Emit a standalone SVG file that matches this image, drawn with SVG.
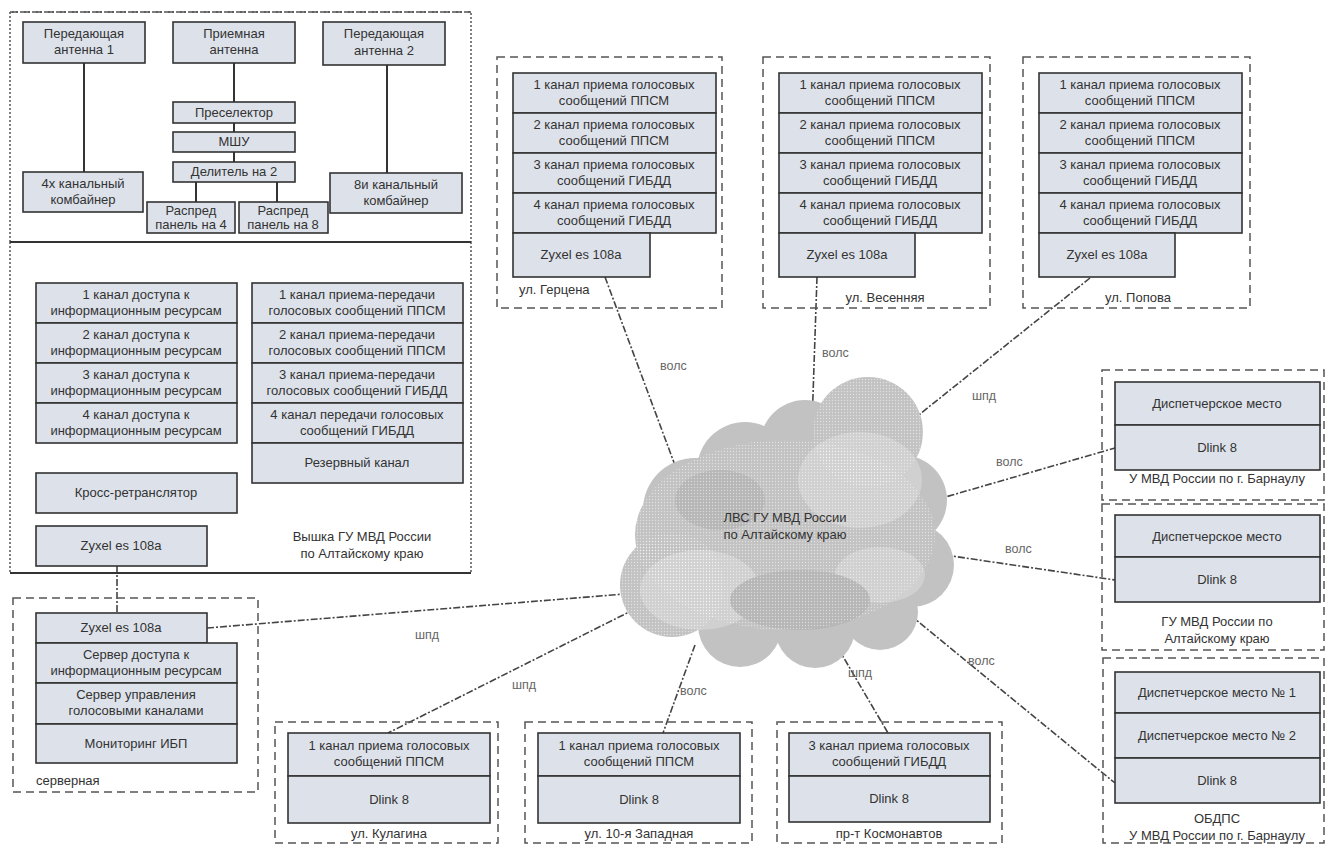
<svg xmlns="http://www.w3.org/2000/svg" width="1327" height="845" viewBox="0 0 1327 845">
<style>
.b{fill:#dde2ea;stroke:#333;stroke-width:1.6}
.t{font-family:"Liberation Sans",Arial,sans-serif;font-size:13px;fill:#333;text-anchor:middle}
.l{font-family:"Liberation Sans",Arial,sans-serif;font-size:13px;fill:#333}
.k{font-family:"Liberation Sans",Arial,sans-serif;font-size:12.5px;fill:#666}
.c{fill:none;stroke:#555;stroke-width:1.5;stroke-dasharray:8 5}
.s{stroke:#333;stroke-width:2;fill:none}
.ln{stroke:#444;stroke-width:1.6;fill:none;stroke-dasharray:7 2 2 2}
</style>
<defs>
<pattern id="dots" width="3" height="3" patternUnits="userSpaceOnUse"><rect width="3" height="3" fill="none"/><circle cx="1.5" cy="1.5" r="0.7" fill="#fff" opacity="0.5"/></pattern>
</defs>
<rect width="1327" height="845" fill="#fff"/>

<g id="connectors">
<line class="ln" x1="605" y1="277" x2="676" y2="468"/>
<line class="ln" x1="817" y1="277" x2="812" y2="425"/>
<line class="ln" x1="1090" y1="278" x2="910" y2="422"/>
<line class="ln" x1="935" y1="500" x2="1115" y2="448"/>
<line class="ln" x1="945" y1="555" x2="1115" y2="580"/>
<line class="ln" x1="910" y1="615" x2="1115" y2="783"/>
<line class="ln" x1="838" y1="648" x2="888" y2="733"/>
<line class="ln" x1="695" y1="645" x2="663" y2="733"/>
<line class="ln" x1="647" y1="603" x2="388" y2="733"/>
<line class="ln" x1="207" y1="628" x2="637" y2="593"/>
<line class="ln" x1="117" y1="566" x2="117" y2="613"/>
<path class="s" d="M84 63V172M234 63V102M234 123V132M234 152V162M196 182V202M277 182V202M387 65V173"/>
<text class="k" x="660" y="370">волс</text>
<text class="k" x="822" y="357">волс</text>
<text class="k" x="972" y="400">шпд</text>
<text class="k" x="996" y="466">волс</text>
<text class="k" x="1005" y="553">волс</text>
<text class="k" x="968" y="665">волс</text>
<text class="k" x="848" y="677">шпд</text>
<text class="k" x="680" y="695">волс</text>
<text class="k" x="512" y="689">шпд</text>
<text class="k" x="415" y="639">шпд</text>
</g>

<g id="cloud">
<g fill="#c2c2c2">
<ellipse cx="785" cy="535" rx="150" ry="95"/>
<circle cx="695" cy="510" r="52"/>
<circle cx="672" cy="585" r="52"/>
<circle cx="745" cy="470" r="48"/>
<circle cx="805" cy="445" r="45"/>
<circle cx="868" cy="432" r="55"/>
<circle cx="902" cy="500" r="45"/>
<circle cx="912" cy="565" r="42"/>
<circle cx="880" cy="612" r="38"/>
<circle cx="815" cy="628" r="40"/>
<circle cx="740" cy="625" r="42"/>
</g>
<g fill="#d0d0d0">
<ellipse cx="860" cy="480" rx="62" ry="48"/>
<ellipse cx="700" cy="590" rx="60" ry="40"/>
<ellipse cx="880" cy="575" rx="45" ry="28"/>
</g>
<g fill="#b6b6b6">
<ellipse cx="800" cy="600" rx="70" ry="30"/>
<ellipse cx="720" cy="500" rx="45" ry="30"/>
</g>
<g fill="url(#dots)">
<ellipse cx="785" cy="535" rx="150" ry="95"/>
<circle cx="868" cy="432" r="55"/>
<circle cx="672" cy="585" r="52"/>
</g>
<text class="t" x="785" y="522">ЛВС ГУ МВД России</text>
<text class="t" x="785" y="539">по Алтайскому краю</text>
</g>

<g id="tower">
<path d="M10 242V12H471V242" fill="none" stroke="#555" stroke-width="1.5" stroke-dasharray="2 2"/>
<line x1="10" y1="12" x2="471" y2="12" stroke="#555" stroke-width="1.5" stroke-dasharray="8 4"/>
<path d="M10 242V573M471 242V573" fill="none" stroke="#555" stroke-width="1.5" stroke-dasharray="2 2"/>
<line x1="10" y1="242" x2="471" y2="242" stroke="#333" stroke-width="1.8"/>
<line x1="10" y1="573" x2="471" y2="573" stroke="#333" stroke-width="1.8"/>
<text class="t" x="362" y="541">Вышка ГУ МВД России</text>
<text class="t" x="362" y="558">по Алтайскому краю</text>
</g>
<g id="ant1"><rect class="b" x="23" y="22" width="122" height="41"/><text class="t" x="84" y="38">Передающая</text><text class="t" x="84" y="54">антенна 1</text></g>
<g id="antrx"><rect class="b" x="173" y="22" width="122" height="41"/><text class="t" x="234" y="38">Приемная</text><text class="t" x="234" y="54">антенна</text></g>
<g id="ant2"><rect class="b" x="323" y="22" width="122" height="43"/><text class="t" x="384" y="38">Передающая</text><text class="t" x="384" y="55">антенна 2</text></g>
<g id="presel"><rect class="b" x="173" y="102" width="122" height="21"/><text class="t" x="234" y="117">Преселектор</text></g>
<g id="mshu"><rect class="b" x="173" y="132" width="122" height="20"/><text class="t" x="234" y="146">МШУ</text></g>
<g id="div2"><rect class="b" x="173" y="162" width="122" height="20"/><text class="t" x="234" y="176">Делитель на 2</text></g>
<g id="comb4"><rect class="b" x="23" y="172" width="120" height="40"/><text class="t" x="83" y="188">4х канальный</text><text class="t" x="83" y="204">комбайнер</text></g>
<g id="dist4"><rect class="b" x="147" y="202" width="88" height="31"/><text class="t" x="191" y="215">Распред</text><text class="t" x="191" y="229">панель на 4</text></g>
<g id="dist8"><rect class="b" x="239" y="202" width="89" height="31"/><text class="t" x="283" y="215">Распред</text><text class="t" x="283" y="229">панель на 8</text></g>
<g id="comb8"><rect class="b" x="330" y="173" width="132" height="40"/><text class="t" x="396" y="189">8и канальный</text><text class="t" x="396" y="205">комбайнер</text></g>

<g id="access">
<rect class="b" x="36" y="283" width="201" height="40"/><text class="t" x="136" y="299">1 канал  доступа к</text><text class="t" x="136" y="315">информационным ресурсам</text>
<rect class="b" x="36" y="323" width="201" height="40"/><text class="t" x="136" y="339">2 канал  доступа к</text><text class="t" x="136" y="355">информационным ресурсам</text>
<rect class="b" x="36" y="363" width="201" height="40"/><text class="t" x="136" y="379">3 канал  доступа к</text><text class="t" x="136" y="395">информационным ресурсам</text>
<rect class="b" x="36" y="403" width="201" height="40"/><text class="t" x="136" y="419">4 канал  доступа к</text><text class="t" x="136" y="435">информационным ресурсам</text>
</g>
<g id="voice">
<rect class="b" x="252" y="283" width="211" height="40"/><text class="t" x="357" y="299">1 канал приема-передачи</text><text class="t" x="357" y="315">голосовых сообщений ППСМ</text>
<rect class="b" x="252" y="323" width="211" height="40"/><text class="t" x="357" y="339">2 канал приема-передачи</text><text class="t" x="357" y="355">голосовых сообщений ППСМ</text>
<rect class="b" x="252" y="363" width="211" height="40"/><text class="t" x="357" y="379">3 канал приема-передачи</text><text class="t" x="357" y="395">голосовых сообщений ГИБДД</text>
<rect class="b" x="252" y="403" width="211" height="40"/><text class="t" x="357" y="419">4 канал передачи голосовых</text><text class="t" x="357" y="435">сообщений ГИБДД</text>
<rect class="b" x="252" y="443" width="211" height="40"/><text class="t" x="357" y="467">Резервный канал</text>
</g>
<g id="cross"><rect class="b" x="36" y="473" width="201" height="40"/><text class="t" x="136" y="497">Кросс-ретранслятор</text></g>
<g id="zyxel-tower"><rect class="b" x="36" y="526" width="171" height="40"/><text class="t" x="121" y="550">Zyxel es 108a</text></g>

<g id="server">
<rect class="c" x="13" y="598" width="245" height="194"/>
<rect class="b" x="36" y="613" width="171" height="30"/><text class="t" x="121" y="632">Zyxel es 108a</text>
<rect class="b" x="36" y="643" width="201" height="40"/><text class="t" x="136" y="659">Сервер доступа к</text><text class="t" x="136" y="675">информационным ресурсам</text>
<rect class="b" x="36" y="683" width="201" height="41"/><text class="t" x="136" y="699">Сервер управления</text><text class="t" x="136" y="715">голосовыми каналами</text>
<rect class="b" x="36" y="724" width="201" height="39"/><text class="t" x="136" y="748">Мониторинг ИБП</text>
<text class="l" x="36" y="785">серверная</text>
</g>

<g id="gertsena">
<rect class="c" x="497" y="57" width="225" height="251"/>
<rect class="b" x="513" y="73" width="203" height="40"/><text class="t" x="614" y="89">1 канал приема голосовых</text><text class="t" x="614" y="105">сообщений ППСМ</text>
<rect class="b" x="513" y="113" width="203" height="40"/><text class="t" x="614" y="129">2 канал приема голосовых</text><text class="t" x="614" y="145">сообщений ППСМ</text>
<rect class="b" x="513" y="153" width="203" height="40"/><text class="t" x="614" y="169">3 канал приема голосовых</text><text class="t" x="614" y="185">сообщений ГИБДД</text>
<rect class="b" x="513" y="193" width="203" height="40"/><text class="t" x="614" y="209">4 канал приема голосовых</text><text class="t" x="614" y="225">сообщений ГИБДД</text>
<rect class="b" x="513" y="233" width="137" height="44"/><text class="t" x="581" y="259">Zyxel es 108a</text>
<text class="l" x="519" y="294">ул. Герцена</text>
</g>
<g id="vesennyaya">
<rect class="c" x="763" y="57" width="227" height="251"/>
<rect class="b" x="779" y="73" width="203" height="40"/><text class="t" x="880" y="89">1 канал приема голосовых</text><text class="t" x="880" y="105">сообщений ППСМ</text>
<rect class="b" x="779" y="113" width="203" height="40"/><text class="t" x="880" y="129">2 канал приема голосовых</text><text class="t" x="880" y="145">сообщений ППСМ</text>
<rect class="b" x="779" y="153" width="203" height="40"/><text class="t" x="880" y="169">3 канал приема голосовых</text><text class="t" x="880" y="185">сообщений ГИБДД</text>
<rect class="b" x="779" y="193" width="203" height="40"/><text class="t" x="880" y="209">4 канал приема голосовых</text><text class="t" x="880" y="225">сообщений ГИБДД</text>
<rect class="b" x="779" y="233" width="136" height="44"/><text class="t" x="847" y="259">Zyxel es 108a</text>
<text class="t" x="885" y="302">ул. Весенняя</text>
</g>
<g id="popova">
<rect class="c" x="1023" y="57" width="227" height="251"/>
<rect class="b" x="1039" y="73" width="203" height="40"/><text class="t" x="1140" y="89">1 канал приема голосовых</text><text class="t" x="1140" y="105">сообщений ППСМ</text>
<rect class="b" x="1039" y="113" width="203" height="40"/><text class="t" x="1140" y="129">2 канал приема голосовых</text><text class="t" x="1140" y="145">сообщений ППСМ</text>
<rect class="b" x="1039" y="153" width="203" height="40"/><text class="t" x="1140" y="169">3 канал приема голосовых</text><text class="t" x="1140" y="185">сообщений ГИБДД</text>
<rect class="b" x="1039" y="193" width="203" height="40"/><text class="t" x="1140" y="209">4 канал приема голосовых</text><text class="t" x="1140" y="225">сообщений ГИБДД</text>
<rect class="b" x="1039" y="233" width="136" height="44"/><text class="t" x="1107" y="259">Zyxel es 108a</text>
<text class="t" x="1138" y="302">ул. Попова</text>
</g>

<g id="umvd">
<rect class="c" x="1102" y="370" width="222" height="130"/>
<rect class="b" x="1115" y="382" width="205" height="43"/><text class="t" x="1217" y="408">Диспетчерское место</text>
<rect class="b" x="1115" y="425" width="205" height="45"/><text class="t" x="1217" y="452">Dlink 8</text>
<text class="t" x="1217" y="483">У МВД России по г. Барнаулу</text>
</g>
<g id="gumvd">
<rect class="c" x="1102" y="504" width="222" height="146"/>
<rect class="b" x="1115" y="515" width="205" height="42"/><text class="t" x="1217" y="541">Диспетчерское место</text>
<rect class="b" x="1115" y="557" width="205" height="45"/><text class="t" x="1217" y="584">Dlink 8</text>
<text class="t" x="1217" y="626">ГУ МВД России по</text>
<text class="t" x="1217" y="643">Алтайскому краю</text>
</g>
<g id="obdps">
<rect class="c" x="1103" y="658" width="221" height="185"/>
<rect class="b" x="1115" y="672" width="205" height="41"/><text class="t" x="1217" y="697">Диспетчерское место № 1</text>
<rect class="b" x="1115" y="713" width="205" height="45"/><text class="t" x="1217" y="740">Диспетчерское место № 2</text>
<rect class="b" x="1115" y="758" width="205" height="45"/><text class="t" x="1217" y="785">Dlink 8</text>
<text class="t" x="1217" y="823">ОБДПС</text>
<text class="t" x="1217" y="840">У МВД России по г. Барнаулу</text>
</g>

<g id="kulagina">
<rect class="c" x="275" y="722" width="223" height="121"/>
<rect class="b" x="288" y="733" width="202" height="43"/><text class="t" x="389" y="750">1 канал приема голосовых</text><text class="t" x="389" y="766">сообщений ППСМ</text>
<rect class="b" x="288" y="776" width="202" height="47"/><text class="t" x="389" y="804">Dlink 8</text>
<text class="t" x="389" y="838">ул. Кулагина</text>
</g>
<g id="zapadnaya">
<rect class="c" x="525" y="722" width="227" height="121"/>
<rect class="b" x="538" y="733" width="202" height="43"/><text class="t" x="639" y="750">1 канал приема голосовых</text><text class="t" x="639" y="766">сообщений ППСМ</text>
<rect class="b" x="538" y="776" width="202" height="47"/><text class="t" x="639" y="804">Dlink 8</text>
<text class="t" x="639" y="838">ул. 10-я Западная</text>
</g>
<g id="kosmonavtov">
<rect class="c" x="777" y="722" width="225" height="121"/>
<rect class="b" x="789" y="733" width="201" height="43"/><text class="t" x="889" y="750">3 канал приема голосовых</text><text class="t" x="889" y="766">сообщений ГИБДД</text>
<rect class="b" x="789" y="776" width="201" height="46"/><text class="t" x="889" y="803">Dlink 8</text>
<text class="t" x="889" y="838">пр-т Космонавтов</text>
</g>
</svg>
